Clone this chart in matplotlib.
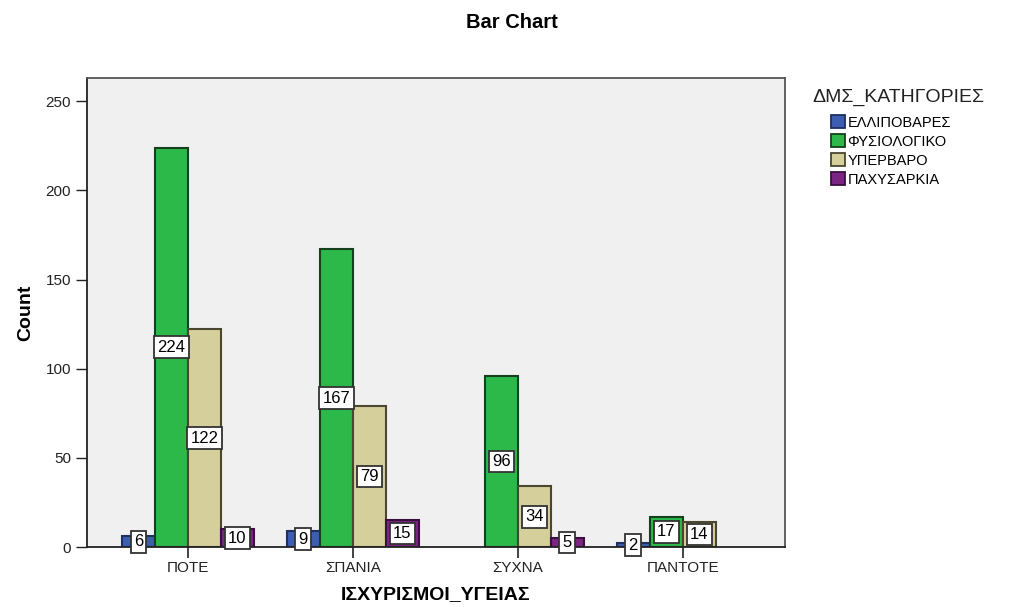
import numpy as np
import matplotlib.pyplot as plt
from matplotlib.patches import Patch

# --- dati ---
categorie = ["ΠΟΤΕ", "ΣΠΑΝΙΑ", "ΣΥΧΝΑ", "ΠΑΝΤΟΤΕ"]
serie = ["ΕΛΛΙΠΟΒΑΡΕΣ", "ΦΥΣΙΟΛΟΓΙΚΟ", "ΥΠΕΡΒΑΡΟ", "ΠΑΧΥΣΑΡΚΙΑ"]
ellipovares = [6, 9, 0, 2]
fysiologiko = [224, 167, 96, 17]
yperbaro = [122, 79, 34, 14]
paxysarkia = [10, 15, 5, 0]

# --- stile ---
colori = ["#3C5DB0", "#2DB84A", "#D4CF9B", "#7A2582"]
bordi = ["#1E2F60", "#14401E", "#4A4630", "#3A0F40"]

plt.rcParams["font.family"] = ["Liberation Sans", "DejaVu Sans"]

fig = plt.figure(figsize=(10.13, 6.07), dpi=100)
ax = fig.add_axes([0.0859, 0.0988, 0.689, 0.7727])
ax.set_facecolor("#F0F0F0")

x = np.arange(len(categorie))
w = 0.2
valori = [ellipovares, fysiologiko, yperbaro, paxysarkia]

for i, vals in enumerate(valori):
    off = (i - 1.5) * w
    for xi, v in zip(x, vals):
        if v == 0:
            continue
        ax.bar(xi + off, v, width=w, color=colori[i], edgecolor=bordi[i], linewidth=1.5, zorder=2)
        ax.text(xi + off, v / 2, str(v), ha="center", va="center", fontsize=12, zorder=3,
                bbox=dict(boxstyle="square,pad=0.2", facecolor="white", edgecolor="#333333", linewidth=1.3))

ax.set_xlim(-0.612, 3.62)
ax.set_ylim(0, 263)
ax.set_xticks(x)
ax.set_xticklabels(categorie, fontsize=11, color="#222222")
ax.set_yticks([0, 50, 100, 150, 200, 250])
ax.tick_params(axis="y", labelsize=11, length=8, width=1, colors="#222222")
ax.tick_params(axis="x", length=8, width=1.2, colors="#222222", pad=2)
for s in ax.spines.values():
    s.set_color("#555555")
    s.set_linewidth(1.3)
ax.spines["bottom"].set_color("#222222")
ax.spines["left"].set_color("#222222")

ax.set_ylabel("Count", fontsize=14, fontweight="bold", labelpad=8)
ax.set_xlabel("ΙΣΧΥΡΙΣΜΟΙ_ΥΓΕΙΑΣ", fontsize=14, fontweight="bold", labelpad=8)
fig.text(0.505, 0.963, "Bar Chart", ha="center", va="center", fontsize=14.5, fontweight="bold")

# legenda: titolo separato, voci rientrate
fig.text(0.802, 0.840, "ΔΜΣ_ΚΑΤΗΓΟΡΙΕΣ", ha="left", va="center", fontsize=14, color="#222222")
handles = [Patch(facecolor=colori[i], edgecolor=bordi[i], linewidth=1.3, label=serie[i]) for i in range(4)]
fig.legend(handles=handles, loc="upper left", bbox_to_anchor=(0.820, 0.810), frameon=False,
           fontsize=10.5, handlelength=1.0, handleheight=0.95, handletextpad=0.15,
           labelspacing=0.32, borderpad=0, borderaxespad=0)

fig.savefig("out.png", dpi=100, facecolor="white")
